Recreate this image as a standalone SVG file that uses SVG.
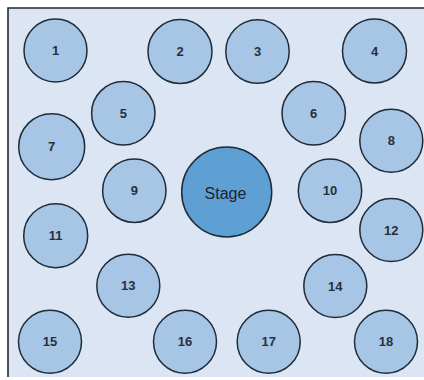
<svg xmlns="http://www.w3.org/2000/svg" width="424" height="380" viewBox="0 0 424 380">
<style>
.bg{fill:#dbe5f3;stroke:none}
.frame{fill:none;stroke:#2a2a2a;stroke-width:1.6}
.seat{fill:#a7c6e6;stroke:#1f2b38;stroke-width:1.5}
.stage{fill:#5e9fd4;stroke:#1f2b38;stroke-width:1.5}
text{font-family:"Liberation Sans",Arial,sans-serif;font-size:13px;font-weight:bold;fill:#26303c;text-anchor:middle;dominant-baseline:central}
.st{font-size:16px;font-weight:normal;fill:#1c2530}
</style>
<rect x="0" y="0" width="424" height="380" fill="#ffffff"/>
<rect class="bg" x="8" y="8" width="416" height="369"/>
<path class="frame" d="M8 377 V8 H424"/>
<g id="connectors"></g>
<g id="n1"><circle class="seat" cx="55.5" cy="50.5" r="31.5"/><text x="55.5" y="50.5">1</text></g>
<g id="n2"><circle class="seat" cx="180" cy="51.5" r="32"/><text x="180" y="51.5">2</text></g>
<g id="n3"><circle class="seat" cx="257.5" cy="51.5" r="31.7"/><text x="257.5" y="51.5">3</text></g>
<g id="n4"><circle class="seat" cx="374.5" cy="51" r="32"/><text x="374.5" y="51">4</text></g>
<g id="n5"><circle class="seat" cx="123.3" cy="113.3" r="31.7"/><text x="123.3" y="113.3">5</text></g>
<g id="n6"><circle class="seat" cx="313.7" cy="113.3" r="31.7"/><text x="313.7" y="113.3">6</text></g>
<g id="n7"><circle class="seat" cx="51.7" cy="146.7" r="33"/><text x="51.7" y="146.7">7</text></g>
<g id="n8"><circle class="seat" cx="391.3" cy="140.7" r="31.5"/><text x="391.3" y="140.7">8</text></g>
<g id="n9"><circle class="seat" cx="134.3" cy="190.7" r="31.7"/><text x="134.3" y="190.7">9</text></g>
<g id="stage"><circle class="stage" cx="226.7" cy="192" r="45"/><text class="st" x="225.5" y="193">Stage</text></g>
<g id="n10"><circle class="seat" cx="330" cy="190.7" r="31.7"/><text x="330" y="190.7">10</text></g>
<g id="n11"><circle class="seat" cx="55.7" cy="235.7" r="32"/><text x="55.7" y="235.7">11</text></g>
<g id="n12"><circle class="seat" cx="391.3" cy="230" r="31.5"/><text x="391.3" y="230">12</text></g>
<g id="n13"><circle class="seat" cx="128.3" cy="285.7" r="31.5"/><text x="128.3" y="285.7">13</text></g>
<g id="n14"><circle class="seat" cx="335.3" cy="286" r="31.5"/><text x="335.3" y="286">14</text></g>
<g id="n15"><circle class="seat" cx="50" cy="341.7" r="31.5"/><text x="50" y="341.7">15</text></g>
<g id="n16"><circle class="seat" cx="185" cy="341.7" r="31.5"/><text x="185" y="341.7">16</text></g>
<g id="n17"><circle class="seat" cx="268.7" cy="341.7" r="31.5"/><text x="268.7" y="341.7">17</text></g>
<g id="n18"><circle class="seat" cx="386" cy="341.7" r="31.5"/><text x="386" y="341.7">18</text></g>
</svg>
